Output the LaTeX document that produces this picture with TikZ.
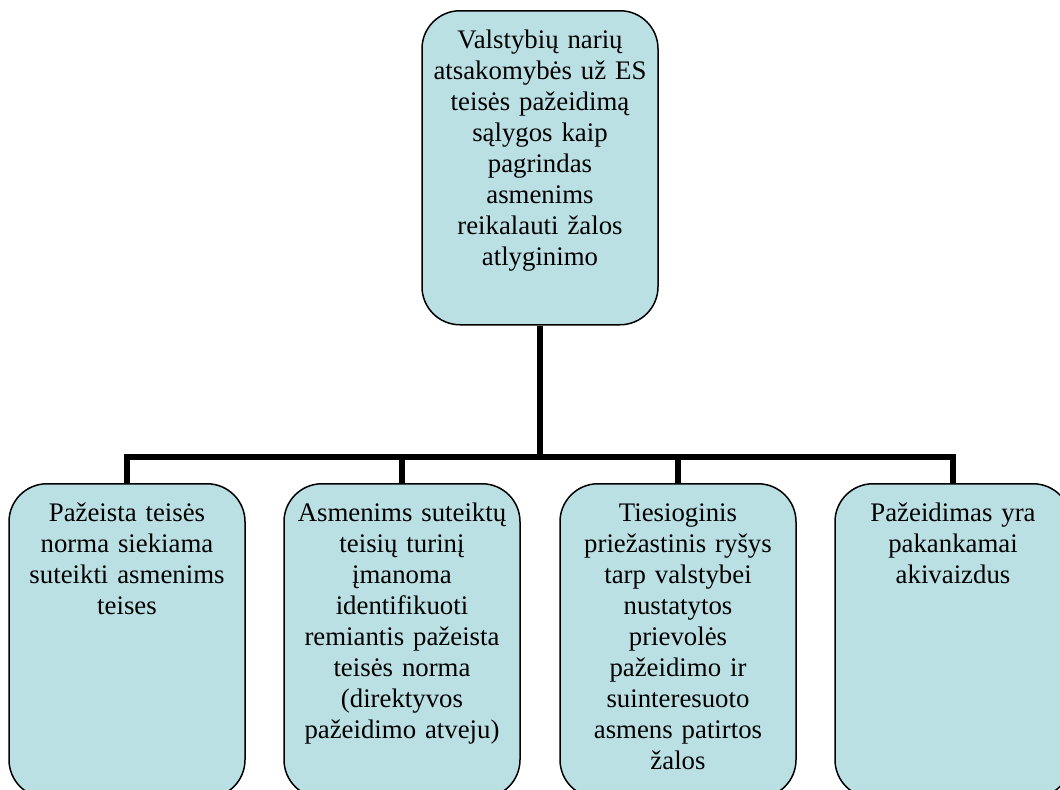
\documentclass[tikz,border=0pt]{standalone}
\usepackage{fontspec}
\setmainfont{Liberation Serif}
\usetikzlibrary{positioning}
\definecolor{boxfill}{RGB}{186,224,228}
\tikzset{
  box/.style={draw, line width=0.75pt, fill=boxfill, rounded corners=19pt,
    minimum width=118pt, minimum height=157pt, anchor=north},
  txt/.style={text width=114pt, align=center, inner sep=0pt, anchor=base,
    font=\fontsize{13.4}{15.5}\selectfont},
  link/.style={line width=3pt}
}
\begin{document}
\begin{tikzpicture}[x=0.5pt, y=-0.5pt]
\useasboundingbox (0,0) rectangle (1060,789);

% Draw top box
\node[box] (top) at (540,10) {};
\node[txt] (toptxt) at (540,48) {Valstybių narių\\ atsakomybės už ES\\ teisės pažeidimą\\ sąlygos kaip\\ pagrindas\\ asmenims\\ reikalauti žalos\\ atlyginimo};

% Draw bottom boxes
\node[box] (cond1) at (127,483) {};
\node[box] (cond2) at (402,483) {};
\node[box] (cond3) at (678,483) {};
\node[box] (cond4) at (953,483) {};

% Label the bottom boxes
\node[txt] (cond1txt) at (127,521) {Pažeista teisės\\ norma siekiama\\ suteikti asmenims\\ teises};
\node[txt] (cond2txt) at (402,521) {Asmenims suteiktų\\ teisių turinį\\ įmanoma\\ identifikuoti\\ remiantis pažeista\\ teisės norma\\ (direktyvos\\ pažeidimo atveju)};
\node[txt] (cond3txt) at (678,521) {Tiesioginis\\ priežastinis ryšys\\ tarp valstybei\\ nustatytos\\ prievolės\\ pažeidimo ir\\ suinteresuoto\\ asmens patirtos\\ žalos};
\node[txt] (cond4txt) at (953,521) {Pažeidimas yra\\ pakankamai\\ akivaizdus};

% Draw connectors
\coordinate (bus) at (540,457);
\draw[link] (top.south) -- (bus);
\draw[link] (cond1.north) -- (cond1.north |- bus) -- (cond4.north |- bus) -- (cond4.north);
\foreach \c in {cond2,cond3}
  \draw[link] (\c.north) -- (\c.north |- bus);
\end{tikzpicture}
\end{document}
